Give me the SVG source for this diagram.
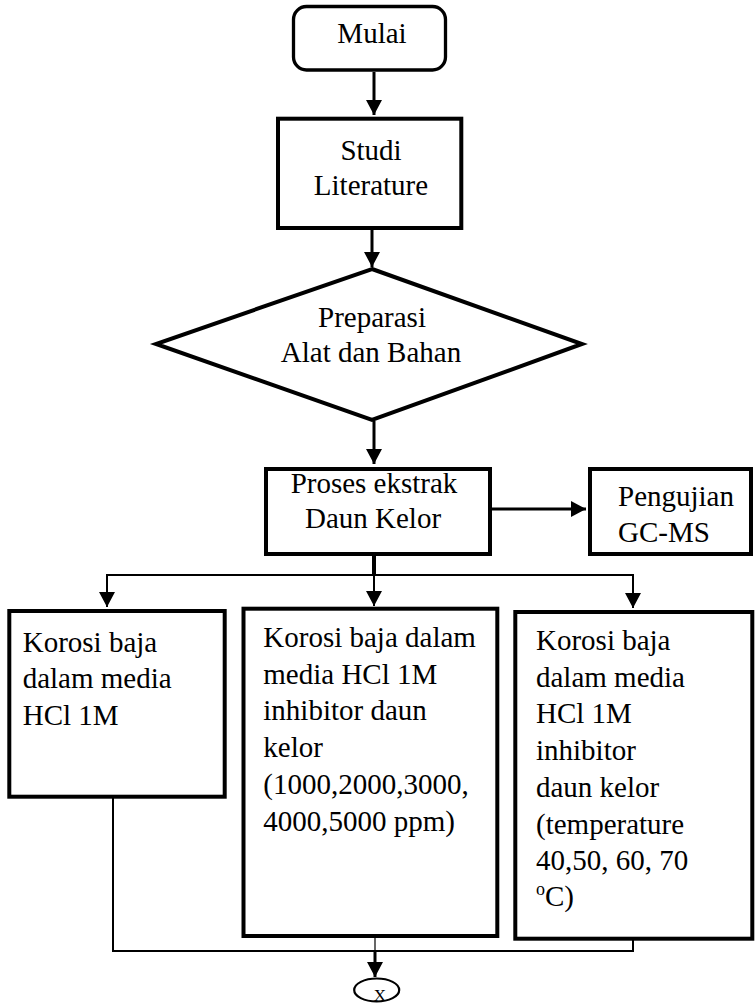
<svg xmlns="http://www.w3.org/2000/svg" width="755" height="1004" viewBox="0 0 755 1004">
<style>
  text { font-size: 29px; fill: #000; }
  .box { fill: #fff; stroke: #000; stroke-width: 4; }
  .c { fill: none; stroke: #000; stroke-width: 2; }
  .c3 { fill: none; stroke: #000; stroke-width: 3; }
  .mid { text-anchor: middle; }
</style>
<defs>
  <marker id="ah" markerUnits="userSpaceOnUse" markerWidth="16" markerHeight="16" viewBox="0 0 16 16" refX="15" refY="8" orient="auto">
    <path d="M0,0 L15,8 L0,16 Z" fill="#000"/>
  </marker>
</defs>
<rect width="755" height="1004" fill="#fff"/>
<g id="connectors">
  <line class="c3" x1="374" y1="72" x2="374" y2="115" marker-end="url(#ah)"/>
  <line class="c3" x1="372" y1="230" x2="372" y2="267" marker-end="url(#ah)"/>
  <line class="c3" x1="374" y1="421" x2="374" y2="464" marker-end="url(#ah)"/>
  <line class="c3" x1="492" y1="509" x2="586" y2="509" marker-end="url(#ah)"/>
  <line fill="none" stroke="#000" stroke-width="4" x1="374" y1="555" x2="374" y2="576"/>
  <polyline class="c" points="107,607 107,575 633,575 633,608" marker-end="url(#ah)"/>
  <line class="c" x1="107" y1="576" x2="107" y2="607" marker-end="url(#ah)"/>
  <line class="c" x1="374" y1="575" x2="374" y2="606" marker-end="url(#ah)"/>
  <polyline class="c" points="113,797 113,951 633,951 633,939"/>
  <line fill="none" stroke="#000" stroke-width="1.2" x1="375" y1="937" x2="375" y2="960"/>
  <line class="c3" x1="375" y1="950" x2="375" y2="977" marker-end="url(#ah)"/>
</g>
<g font-family="'Liberation Serif', 'DejaVu Serif', serif">
<g id="mulai">
  <rect x="293.5" y="6.5" width="152" height="63.5" rx="13" ry="13" fill="#fff" stroke="#000" stroke-width="3.3"/>
  <text class="mid" x="372" y="43">Mulai</text>
</g>
<g id="studi">
  <rect class="box" x="278" y="118.7" width="183.3" height="109.3"/>
  <text class="mid" x="371" y="160">Studi</text>
  <text class="mid" x="371" y="195">Literature</text>
</g>
<g id="preparasi">
  <polygon class="box" points="372,269 582,344 372,420 156,344"/>
  <text class="mid" x="372" y="327">Preparasi</text>
  <text class="mid" x="371" y="362">Alat dan Bahan</text>
</g>
<g id="proses">
  <rect class="box" x="266" y="469" width="224" height="85"/>
  <text class="mid" x="374" y="493">Proses ekstrak</text>
  <text class="mid" x="373" y="528">Daun Kelor</text>
</g>
<g id="pengujian">
  <rect class="box" x="590" y="469" width="161" height="85"/>
  <text x="618" y="506">Pengujian</text>
  <text x="618" y="542">GC-MS</text>
</g>
<g id="korosi1">
  <rect class="box" x="9.3" y="611" width="215.4" height="185.7"/>
  <text x="22.7" y="651.7">Korosi baja</text>
  <text x="22.7" y="688.4">dalam media</text>
  <text x="22.7" y="725">HCl 1M</text>
</g>
<g id="korosi2">
  <rect class="box" x="243.5" y="608.7" width="253.8" height="327.3"/>
  <text x="263.3" y="647">Korosi baja dalam</text>
  <text x="263.3" y="683.7">media HCl 1M</text>
  <text x="263.3" y="720.4">inhibitor daun</text>
  <text x="263.3" y="757.1">kelor</text>
  <text x="263.3" y="793.8">(1000,2000,3000,</text>
  <text x="263.3" y="830.5">4000,5000 ppm)</text>
</g>
<g id="korosi3">
  <rect class="box" x="515.3" y="612" width="237" height="326.7"/>
  <text x="536" y="650">Korosi baja</text>
  <text x="536" y="686.7">dalam media</text>
  <text x="536" y="723.4">HCl 1M</text>
  <text x="536" y="760">inhibitor</text>
  <text x="536" y="796.8">daun kelor</text>
  <text x="536" y="833.5">(temperature</text>
  <text x="536" y="870">40,50, 60, 70</text>
  <text x="536" y="906"><tspan font-size="18" dy="-11">o</tspan><tspan dy="11">C)</tspan></text>
</g>
<g id="x">
  <ellipse cx="376.7" cy="990" rx="22.5" ry="11.5" fill="#fff" stroke="#000" stroke-width="2.2"/>
  <text x="380" y="1001" text-anchor="middle" style="font-size:17px">X</text>
</g>
</g>
</svg>
